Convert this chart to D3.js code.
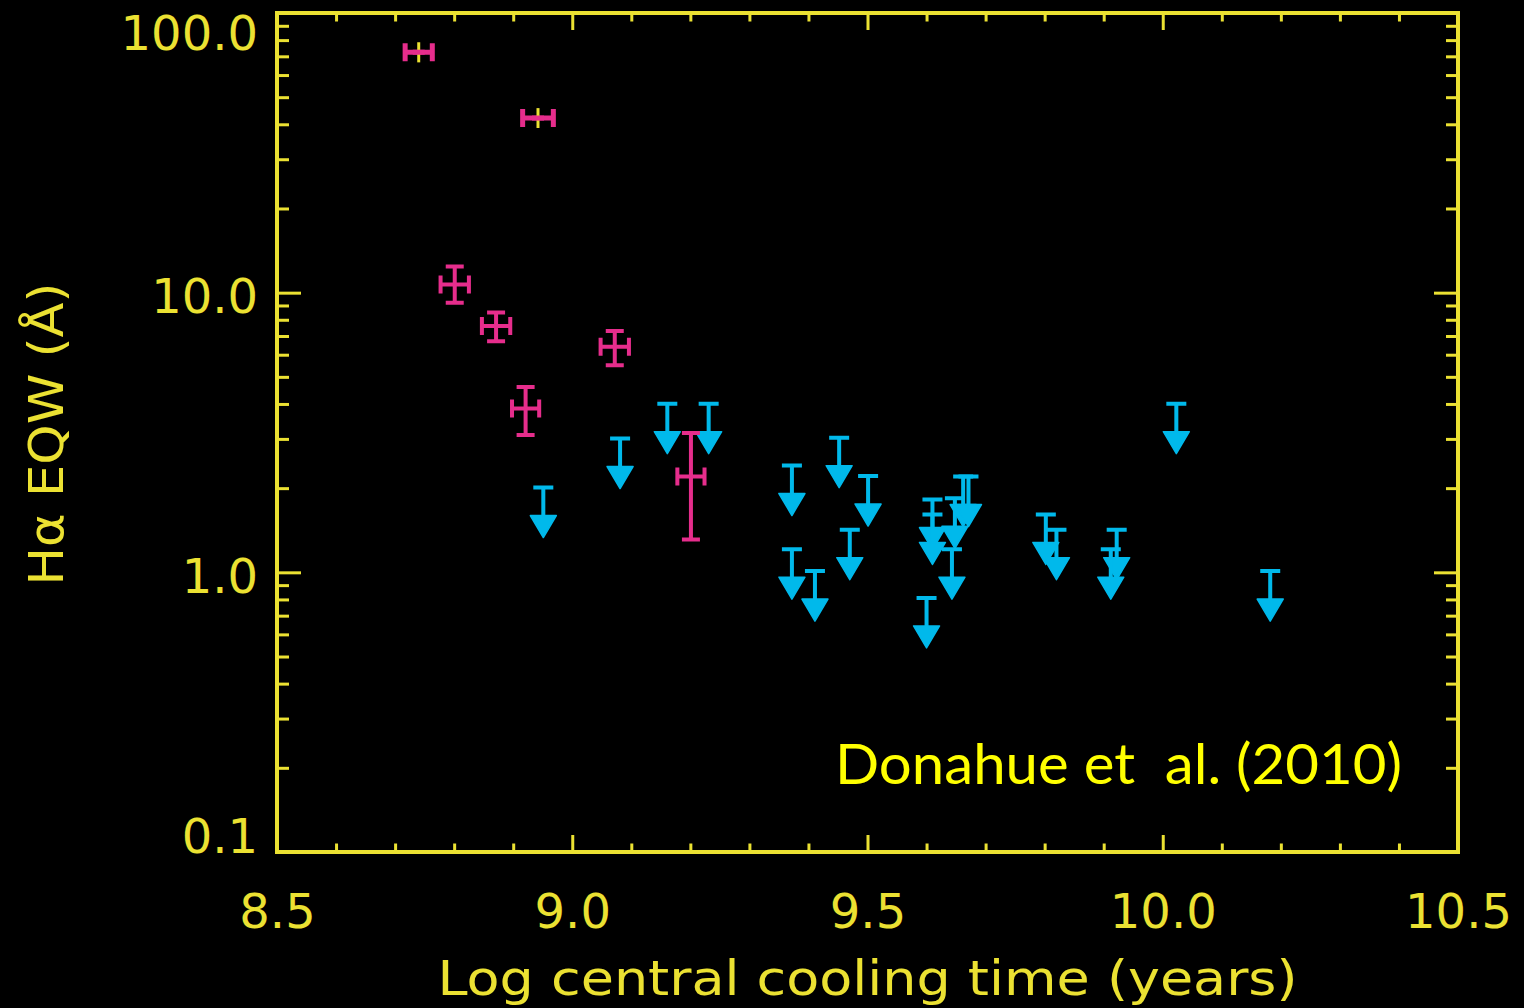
<!DOCTYPE html>
<html>
<head>
<meta charset="utf-8">
<script src="https://cdn.jsdelivr.net/npm/d3@7"></script>
<style>
  html, body { margin: 0; padding: 0; background: #000; }
  svg { display: block; }
</style>
</head>
<body>
<svg id="chart"></svg>
<script>
// detections (magenta points with error bars)
const detX = [8.740, 8.942, 8.801, 8.871, 9.072, 8.921, 9.201]
const detY = [72.4, 42.1, 10.7, 7.6, 6.4, 3.85, 2.2]
const detXErr = [0.023, 0.026, 0.024, 0.024, 0.024, 0.023, 0.023]
const detYLo = [66.6, 38.8, 9.2, 6.7, 5.5, 3.1, 1.31]
const detYHi = [78.6, 45.7, 12.4, 8.5, 7.3, 4.6, 3.15]
const detYErrYellow = [true, true, false, false, false, false, false]

// upper limits (cyan arrows)
const limX = [8.951, 9.081, 9.161, 9.231, 9.372, 9.452, 9.501, 9.372, 9.411, 9.470,
  9.600, 9.610, 9.610, 9.648, 9.643, 9.662, 9.671, 9.802, 9.820, 9.922, 9.912, 10.023, 10.182]
const limY = [2.01, 3.01, 4.01, 4.01, 2.41, 3.03, 2.21, 1.21, 1.01, 1.42,
  0.81, 1.82, 1.61, 1.84, 1.21, 2.20, 2.20, 1.61, 1.42, 1.42, 1.21, 4.01, 1.01]

// axes
const xMajor = [8.5, 9.0, 9.5, 10.0, 10.5]
const xMinor = d3.range(85, 106).map(d => d / 10).filter(d => !xMajor.some(m => Math.abs(m - d) < 1e-6))
const yMajor = [0.1, 1, 10, 100]
const yMinor = [0.1, 1, 10].flatMap(dec => d3.range(2, 10).map(k => k * dec))

const xTitle = "Log central cooling time (years)"
const yTitle = "Hα EQW (Å)"
const credit = "Donahue et  al. (2010)"

const W = 1524, H = 1008
const margin = { top: 13, right: 66, bottom: 156, left: 277 }
const w = W - margin.left - margin.right
const h = H - margin.top - margin.bottom

const axisCol = "#ebe132"
const pink = "#e62d8c"
const cyan = "#00b9eb"
const labelFont = "'DejaVu Sans', sans-serif"

const svg = d3.select("#chart")
  .attr("width", W)
  .attr("height", H)
  .style("background", "#000")

const g = svg.append("g").attr("transform", `translate(${margin.left},${margin.top})`)

const x = d3.scaleLinear().domain([8.5, 10.5]).range([0, w])
const y = d3.scaleLog().domain([0.1, 100]).range([h, 0])

const xTick = 17, yTick = 24

function styleAxis(sel) {
  sel.select(".domain").remove()
  sel.selectAll("line").attr("stroke", axisCol).attr("stroke-width", 3)
  sel.selectAll("text")
    .attr("fill", axisCol)
    .style("font-family", labelFont)
    .style("font-size", "48px")
}

// bottom
g.append("g").attr("transform", `translate(0,${h})`)
  .call(d3.axisBottom(x).tickValues(xMajor).tickSize(-xTick).tickPadding(42).tickFormat(d3.format(".1f")))
  .call(styleAxis)
g.append("g").attr("transform", `translate(0,${h})`)
  .call(d3.axisBottom(x).tickValues(xMinor).tickSize(-xTick / 2).tickFormat(""))
  .call(styleAxis)
// top
g.append("g")
  .call(d3.axisTop(x).tickValues(xMajor).tickSize(-xTick).tickFormat(""))
  .call(styleAxis)
g.append("g")
  .call(d3.axisTop(x).tickValues(xMinor).tickSize(-xTick / 2).tickFormat(""))
  .call(styleAxis)
// left
const yAx = g.append("g")
  .call(d3.axisLeft(y).tickValues(yMajor).tickSize(-yTick).tickPadding(19).tickFormat(d3.format(".1f")))
  .call(styleAxis)
yAx.selectAll("text").attr("dy", d => d === 100 ? "0.77em" : d === 0.1 ? "0em" : "0.42em")
g.append("g")
  .call(d3.axisLeft(y).tickValues(yMinor).tickSize(-yTick / 2).tickFormat(""))
  .call(styleAxis)
// right
g.append("g").attr("transform", `translate(${w},0)`)
  .call(d3.axisRight(y).tickValues(yMajor).tickSize(-yTick).tickFormat(""))
  .call(styleAxis)
g.append("g").attr("transform", `translate(${w},0)`)
  .call(d3.axisRight(y).tickValues(yMinor).tickSize(-yTick / 2).tickFormat(""))
  .call(styleAxis)

// upper limits: cap, stem, filled arrowhead
const lims = limX.map((d, i) => ({ x: limX[i], y: limY[i] }))
const limG = g.append("g").selectAll("g")
  .data(lims)
  .join("g")
  .attr("transform", d => `translate(${x(d.x)},${y(d.y)})`)
limG.append("path")
  .attr("d", "M-10,0H10M0,0V30")
  .attr("stroke", cyan)
  .attr("stroke-width", 4)
  .attr("fill", "none")
limG.append("path")
  .attr("d", "M-13,28L13,28L0,50Z")
  .attr("fill", cyan)
  .attr("stroke", cyan)
  .attr("stroke-width", 1.5)
  .attr("stroke-linejoin", "round")

// detections with error bars
const dets = detX.map((d, i) => ({
  x: detX[i], y: detY[i], xe: detXErr[i], lo: detYLo[i], hi: detYHi[i], yel: detYErrYellow[i]
}))
const detG = g.append("g").selectAll("g")
  .data(dets)
  .join("g")
detG.append("path")
  .attr("d", d => {
    const cx = x(d.x), cy = y(d.y)
    const x0 = x(d.x - d.xe), x1 = x(d.x + d.xe)
    let p = `M${x0},${cy}H${x1}M${x0},${cy - 9}V${cy + 9}M${x1},${cy - 9}V${cy + 9}`
    if (!d.yel) {
      const y0 = y(d.hi), y1 = y(d.lo)
      p += `M${cx},${y0}V${y1}M${cx - 9},${y0}H${cx + 9}M${cx - 9},${y1}H${cx + 9}`
    }
    return p
  })
  .attr("stroke", pink)
  .attr("stroke-width", d => d.yel ? 5 : 4)
  .attr("fill", "none")
detG.filter(d => d.yel).append("path")
  .attr("d", d => `M${x(d.x)},${y(d.hi)}V${y(d.lo)}`)
  .attr("stroke", axisCol)
  .attr("stroke-width", 3)
detG.filter(d => d.yel).append("path")
  .attr("d", d => `M${x(d.x) - 6},${y(d.y)}H${x(d.x) + 6}`)
  .attr("stroke", pink)
  .attr("stroke-width", 5)

// frame
g.append("rect")
  .attr("width", w)
  .attr("height", h)
  .attr("fill", "none")
  .attr("stroke", axisCol)
  .attr("stroke-width", 4)

// titles
svg.append("text")
  .attr("x", margin.left + x(9.5))
  .attr("y", 995)
  .attr("text-anchor", "middle")
  .attr("textLength", 860)
  .attr("lengthAdjust", "spacingAndGlyphs")
  .attr("fill", axisCol)
  .style("font-family", labelFont)
  .style("font-size", "48px")
  .text(xTitle)

svg.append("text")
  .attr("transform", "translate(63,434) rotate(-90)")
  .attr("text-anchor", "middle")
  .attr("textLength", 303)
  .attr("lengthAdjust", "spacingAndGlyphs")
  .attr("fill", axisCol)
  .style("font-family", labelFont)
  .style("font-size", "48px")
  .text(yTitle)

svg.append("text")
  .attr("x", 835)
  .attr("y", 784)
  .attr("textLength", 567)
  .attr("lengthAdjust", "spacingAndGlyphs")
  .attr("fill", "#ffff00")
  .style("white-space", "pre")
  .style("font-family", "Lato, 'Open Sans', sans-serif")
  .style("font-size", "56px")
  .text(credit)
</script>
</body>
</html>
